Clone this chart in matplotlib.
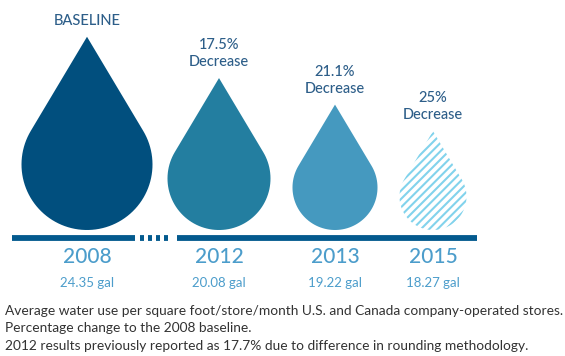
import numpy as np
import matplotlib.pyplot as plt
from matplotlib.patches import Polygon

plt.rcParams['font.family'] = ['Lato', 'DejaVu Sans']
plt.rcParams['hatch.linewidth'] = 1.5

# water use per square foot/store/month
years = ['2008', '2012', '2013', '2015']
gallons = [24.35, 20.08, 19.22, 18.27]
headlines = ['BASELINE', '17.5%\nDecrease', '21.1%\nDecrease', '25%\nDecrease']
notes = [
    'Average water use per square foot/store/month U.S. and Canada company-operated stores.',
    'Percentage change to the 2008 baseline.',
    '2012 results previously reported as 17.7% due to difference in rounding methodology.',
]

# layout (pixels)
drop_x = [87, 219, 335, 433]
drop_r = [65.5, 51.5, 42.5, 33.5]
ground = 230
drop_colors = ['#014f7e', '#237ea0', '#4599bf', None]
navy = '#035a8e'
text_dark = '#2d5e89'
text_light = '#4c9dcb'


def drop_outline(cx, r, bottom, tip=1.95):
    cy = bottom - r
    phi = np.arccos(1 / tip)
    ang = np.linspace(phi, 2 * np.pi - phi, 80)
    xs = cx + r * np.sin(ang)
    ys = cy - r * np.cos(ang)
    pts = np.column_stack([xs, ys])
    return np.vstack([[cx, cy - tip * r], pts])


fig = plt.figure(figsize=(5.65, 3.56), dpi=100)
ax = fig.add_axes([0, 0, 1, 1])
ax.set_xlim(0, 565)
ax.set_ylim(356, 0)
ax.axis('off')

for i, year in enumerate(years):
    pts = drop_outline(drop_x[i], drop_r[i], ground)
    if drop_colors[i] is None:
        ax.add_patch(Polygon(pts, closed=True, facecolor='white',
                             edgecolor='#82d3ec', linewidth=0, hatch='////'))
    else:
        ax.add_patch(Polygon(pts, closed=True, facecolor=drop_colors[i],
                             edgecolor='none'))
    top = ground - drop_r[i] * 2.95
    ax.text(drop_x[i], top - 9, headlines[i], ha='center', va='bottom',
            fontsize=10.5, color=text_dark, linespacing=1.25,
            fontweight='medium')
    ax.text(drop_x[i], 257, year, ha='center', va='center',
            fontsize=15, color=text_light, fontweight='medium')
    ax.text(drop_x[i], 283, f'{gallons[i]:.2f} gal', ha='center',
            va='center', fontsize=9.5, color=text_light)

# timeline with a break between 2008 and 2012
ax.plot([12, 135], [238, 238], color=navy, lw=4.2, solid_capstyle='butt')
ax.plot([177, 477], [238, 238], color=navy, lw=4.2, solid_capstyle='butt')
for x in [142, 150, 158, 166]:
    ax.plot([x - 2, x + 2], [238, 238], color=navy, lw=4.2,
            solid_capstyle='butt')

for k, line in enumerate(notes):
    ax.text(5, 311 + 17.5 * k, line, ha='left', va='center',
            fontsize=9.9, color='#333333')

fig.savefig('out.png', dpi=100)
